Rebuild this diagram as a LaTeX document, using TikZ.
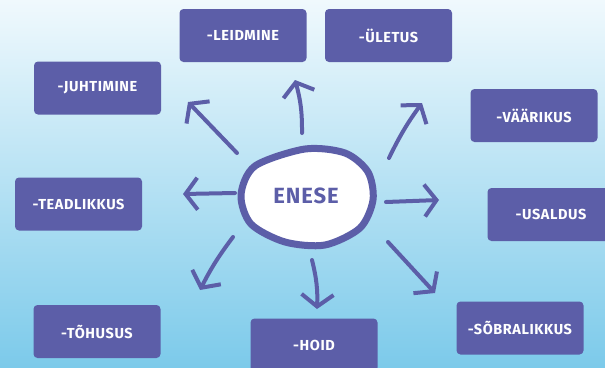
\documentclass[tikz,border=0pt]{standalone}
\usepackage{fontspec}
\setmainfont{Fira Sans}
\newfontfamily\lblfont{Fira Sans}[LetterSpace=4]
\usetikzlibrary{arrows.meta}
\definecolor{navy}{HTML}{5C5EA8}
\definecolor{bgtop}{HTML}{F0F9FD}
\definecolor{bgbot}{HTML}{7CCAEA}
\begin{document}
\begin{tikzpicture}[x=1pt,y=-1pt,
  box/.style={fill=navy, rounded corners=4pt, minimum width=127pt, minimum height=53pt,
    text=white, font=\lblfont\bfseries\fontsize{14.5}{16}\selectfont, inner sep=0pt},
  arr/.style={draw=navy, line width=4pt, line cap=round, line join=round,
    -{Straight Barb[length=12pt,width=32pt]}}]
\useasboundingbox (0,0) rectangle (605,367);
\clip (0,0) rectangle (605,367);
\shade[top color=bgtop, bottom color=bgbot] (0,0) rectangle (605,367);

% boxes
\node[box] (leid) at (243,35.5) {-LEIDMINE};
\node[box] (ulet) at (388.5,35.5) {-ÜLETUS};
\node[box] (juht) at (97.5,88) {-JUHTIMINE};
\node[box] (vaar) at (534,115.5) {-VÄÄRIKUS};
\node[box] (tead) at (78.5,204) {-TEADLIKKUS};
\node[box] (usal) at (551,214.5) {-USALDUS};
\node[box] (tohu) at (97,331.5) {-TÕHUSUS};
\node[box] (hoid) at (314,345) {-HOID};
\node[box] (sobr) at (520,328) {-SÕBRALIKKUS};

% central blob
\fill[white] plot[smooth cycle] coordinates {(305,149) (345,153) (368,172) (373,200) (360,228) (325,245) (285,242) (251,224) (241,195) (255,166)};
\draw[navy, line width=7pt] plot[smooth cycle] coordinates {(305,149) (345,153) (368,172) (373,200) (360,228) (325,245) (285,242) (251,224) (241,195) (255,166)};
\node[text=navy, font=\lblfont\bfseries\fontsize{22}{26}\selectfont] (enese) at (306,196) {ENESE};

% arrow ends
\coordinate (t1) at (237,153); \coordinate (h1) at (188,102);
\coordinate (t2) at (302,133); \coordinate (h2) at (295,80);
\coordinate (t3) at (389,158); \coordinate (h3) at (422,103);
\coordinate (t4) at (386,202); \coordinate (h4) at (439,200);
\coordinate (t5) at (388,242); \coordinate (h5) at (435,293);
\coordinate (t6) at (312,260); \coordinate (h6) at (317,309);
\coordinate (t7) at (233,237); \coordinate (h7) at (200,290);
\coordinate (t8) at (235,193); \coordinate (h8) at (183,194);

\draw[arr] (t1) -- (h1);
\draw[arr] (t2) to[bend right=8] (h2);
\draw[arr] (t3) to[bend left=5] (h3);
\draw[arr] (t4) -- (h4);
\draw[arr] (t5) -- (h5);
\draw[arr] (t6) to[bend left=8] (h6);
\draw[arr] (t7) to[bend right=5] (h7);
\draw[arr] (t8) -- (h8);
\end{tikzpicture}
\end{document}
